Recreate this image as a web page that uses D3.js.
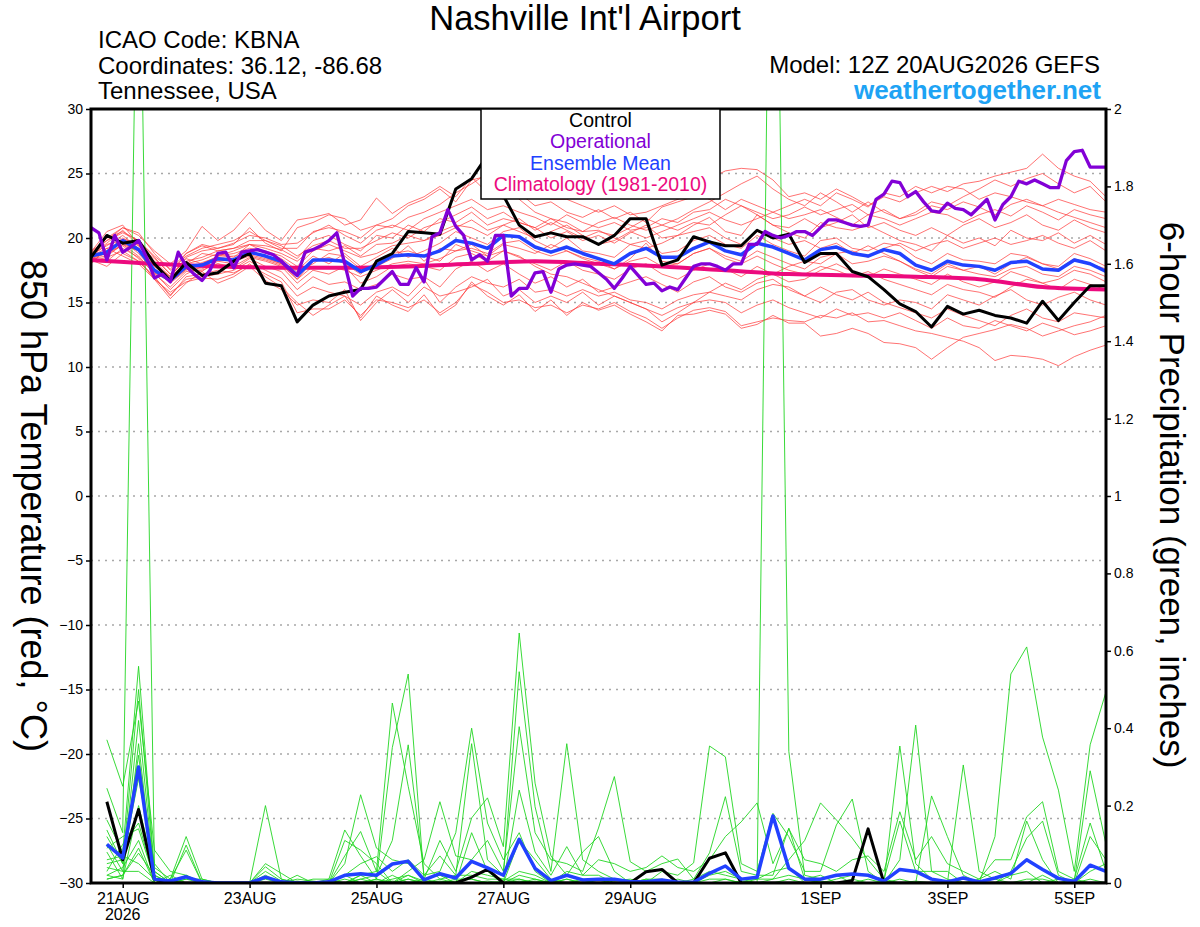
<!DOCTYPE html>
<html>
<head>
<meta charset="utf-8">
<script src="https://cdn.jsdelivr.net/npm/d3@7"></script>
<style>
  body { margin: 0; background: #fff; }
  svg { display: block; }
  text { font-family: "Liberation Sans", Arial, Helvetica, sans-serif; }
</style>
</head>
<body>
<svg id="chart" width="1200" height="927"></svg>
<script>
// ---------------- DATA ----------------
const runStart = "2026-08-20T12:00:00Z";   // first forecast time (6-hourly series)
const runEnd   = "2026-09-05T12:00:00Z";

// x-axis ticks
const tickDates  = ["2026-08-21","2026-08-23","2026-08-25","2026-08-27","2026-08-29","2026-09-01","2026-09-03","2026-09-05"];
const tickLabels = ["21AUG","23AUG","25AUG","27AUG","29AUG","1SEP","3SEP","5SEP"];
const tempTicks   = [-30,-25,-20,-15,-10,-5,0,5,10,15,20,25,30];
const precipTicks = [0,0.2,0.4,0.6,0.8,1,1.2,1.4,1.6,1.8,2];
const gridTemps   = [-25,-20,-15,-10,-5,0,5,10,15,20,25];

// 850 hPa temperature, control (6-hourly)
const controlT = [18.5,20.2,19.6,19.8,18.0,16.7,18.1,17.1,17.3,18.2,18.8,16.5,16.3,
  13.5,14.8,15.5,15.8,16.0,18.2,18.8,20.5,20.4,20.3,23.8,24.6,26.4,23.3,
  21.0,20.1,20.4,20.1,20.1,19.5,20.2,21.5,21.5,17.9,18.3,20.1,19.7,19.4,
  19.4,20.6,20.0,20.3,18.1,18.8,18.8,17.4,17.0,16.0,14.9,14.3,13.1,14.7,
  14.1,14.4,14.0,13.8,13.4,15.1,13.6,15.0,16.3,16.3];

// operational (3-hourly)
const operationalT = [20.8,20.4,18.3,20.2,18.9,19.3,19.8,18.5,16.9,17.2,16.6,18.9,17.8,
  17.2,16.7,17.5,18.8,18.9,17.7,18.9,19.0,19.1,18.9,18.7,18.2,17.6,
  17.1,18.9,19.1,19.4,19.8,20.4,18.0,15.5,16.1,16.1,16.2,16.8,17.4,
  16.4,16.4,17.7,16.6,20.1,20.4,22.2,20.9,20.2,18.3,18.7,18.2,20.2,
  20.2,15.5,16.1,16.1,17.3,17.4,15.8,17.6,17.9,18.0,17.9,17.8,17.3,
  16.8,16.1,16.9,17.8,17.1,16.4,16.5,15.9,16.2,16.0,16.9,17.8,18.0,
  18.0,17.8,17.5,18.0,18.0,19.5,19.5,20.5,20.2,20.0,20.2,20.5,20.5,
  20.2,20.8,21.4,21.4,21.2,21.0,20.9,21.0,23.0,23.4,24.4,24.3,23.2,
  23.6,22.8,22.1,22.0,22.7,22.3,22.2,21.8,22.4,23.0,21.4,22.6,23.2,
  24.4,24.2,24.5,24.2,23.9,23.9,26.0,26.7,26.8,25.5,25.5,25.5];

// ensemble mean (6-hourly)
const meanT = [18.6,18.9,19.8,19.1,17.5,16.7,17.8,17.9,18.4,18.3,18.9,18.6,18.2,
  17.1,18.3,18.3,18.2,17.4,17.9,18.6,18.7,18.6,19.0,19.8,19.6,19.2,20.2,
  20.1,19.3,18.9,19.3,18.8,18.4,18.0,18.8,19.2,18.5,18.5,19.2,19.7,19.0,
  18.7,19.6,19.3,18.8,18.3,19.1,19.3,18.8,18.6,19.1,18.8,17.9,17.5,18.2,
  17.9,17.8,17.5,18.1,18.2,17.6,17.5,18.3,18.0,17.4];

// climatology (1981-2010), daily at 12Z
const climT = [18.3,18.0,17.8,17.7,17.7,17.8,18.0,18.2,18.0,17.8,17.5,17.2,17.1,17.0,16.8,16.2,16.0];

// ensemble members, 850 hPa temperature (6-hourly)
const memberT = [
 [18.9,20.5,21.0,19.5,18.2,17.0,18.5,19.0,19.2,19.5,20.8,19.6,19.0,
  20.8,21.2,21.8,21.5,20.6,21.0,21.5,22.5,23.0,23.8,22.8,24.5,24.8,
  24.2,23.5,22.5,22.8,22.0,21.6,22.2,21.5,22.0,21.2,22.4,22.8,23.2,
  24.6,25.2,25.4,25.3,24.5,23.2,23.5,23.0,23.8,23.2,22.5,23.2,22.8,
  23.5,24.0,23.6,24.2,24.4,24.8,25.1,25.4,26.5,25.4,24.8,24.4,23.2],
 [18.2,18.5,19.0,18.2,17.0,15.5,17.0,17.2,17.5,17.3,17.9,17.2,16.6,
  14.2,14.5,14.5,15.2,14.0,15.2,15.0,14.6,15.2,14.2,15.0,16.4,15.8,
  15.0,15.2,14.6,14.8,14.2,14.8,14.5,15.0,14.3,13.8,13.0,13.8,14.4,
  14.6,14.3,13.2,13.5,13.8,13.6,13.5,14.0,13.8,14.2,13.5,13.6,13.2,
  12.8,12.6,12.3,12.0,11.5,10.5,10.9,10.8,10.6,10.1,10.8,11.3,11.7],
 [18.0,19.2,18.6,18.0,16.8,15.8,16.6,16.9,16.8,17.2,18.0,17.0,16.2,
  15.0,14.0,14.8,15.5,13.8,15.5,14.8,14.3,15.6,14.0,14.8,16.6,15.5,
  14.8,15.6,14.3,15.2,14.0,15.0,14.4,14.8,14.1,13.5,12.8,14.0,14.1,
  14.4,14.1,13.0,13.3,14.0,13.4,13.4,12.4,12.6,13.0,12.6,11.9,11.8,
  11.5,10.6,11.5,12.3,12.6,12.9,13.3,13.0,12.4,12.8,13.2,13.5,14.0],
 [19.0,19.8,20.8,20.2,19.0,18.0,19.0,20.9,19.8,20.6,22.0,20.6,19.8,
  21.4,21.6,21.9,21.0,21.4,23.1,21.9,22.7,23.2,24.0,23.2,24.7,23.5,
  23.0,24.0,23.5,23.0,23.0,22.5,22.0,22.5,21.8,22.0,22.5,23.0,23.5,
  23.0,22.2,23.0,22.5,22.0,21.5,21.8,22.2,21.6,21.0,21.8,21.5,21.0,
  21.5,22.0,21.8,21.2,21.8,22.2,21.7,22.5,22.0,21.4,22.2,21.8,21.5],
 [18.8,20.0,20.5,19.8,18.5,17.2,18.2,18.5,19.0,19.2,19.5,19.4,19.1,
  18.4,19.8,20.2,19.5,19.0,20.2,20.0,21.0,20.5,21.5,21.2,22.0,21.0,
  21.5,21.2,20.8,20.0,20.5,19.8,20.2,19.6,20.4,21.0,20.0,20.2,21.0,
  21.6,20.5,20.2,21.8,21.0,20.4,20.0,21.2,20.8,20.6,21.0,20.4,19.8,
  19.5,19.0,20.2,19.6,20.0,19.4,20.6,20.0,19.8,20.4,19.6,20.2,19.5],
 [18.4,18.6,19.5,18.6,17.2,16.2,17.4,17.5,18.0,17.6,18.4,17.8,17.4,
  16.0,17.0,16.4,16.6,16.0,16.4,17.2,16.8,17.0,16.2,17.6,18.2,17.4,
  18.0,17.2,16.5,17.0,16.2,16.8,15.8,16.2,16.6,17.0,16.4,15.8,16.6,
  17.0,16.2,15.8,16.5,16.8,16.0,15.5,16.2,15.6,15.2,15.8,15.0,14.6,
  14.2,13.8,14.5,14.0,13.6,13.2,14.0,14.5,13.8,13.5,14.2,14.0,13.8],
 [18.5,19.0,20.0,19.4,17.8,16.8,18.0,18.3,18.8,18.5,19.5,18.9,18.4,
  17.5,18.6,18.0,18.8,17.8,18.5,19.2,18.5,19.0,19.6,20.5,20.0,19.5,
  20.5,20.8,19.8,19.2,20.0,19.0,18.8,18.5,19.5,19.8,18.8,19.0,19.8,
  20.2,19.5,19.2,20.2,19.5,19.0,18.6,19.8,20.0,19.2,19.0,19.6,19.4,
  18.5,18.0,18.8,18.3,18.2,18.0,18.8,18.6,18.0,17.8,18.8,18.4,17.8],
 [18.7,19.4,20.2,19.2,17.8,17.0,18.4,18.0,18.6,18.8,19.2,19.0,18.6,
  17.8,19.0,19.5,19.0,18.5,18.8,19.4,19.6,19.8,20.5,21.0,20.8,20.2,
  21.0,20.5,20.0,20.5,21.0,20.2,19.5,19.8,20.5,20.0,20.5,21.0,21.5,
  22.0,21.4,21.0,21.5,22.0,22.5,23.0,22.5,23.5,23.0,22.4,23.5,23.2,
  24.0,23.5,24.0,23.8,23.0,23.5,23.2,22.8,22.5,23.0,22.6,22.2,22.0],
 [18.3,17.8,18.8,18.2,16.9,15.6,16.8,17.0,17.2,17.5,18.2,17.5,16.9,
  15.5,16.2,15.8,15.5,14.8,15.8,16.2,15.5,16.8,15.0,16.2,17.0,16.5,
  16.2,16.8,15.8,16.0,15.5,16.0,15.5,15.8,15.2,15.0,14.5,15.2,15.6,
  15.8,15.5,15.2,16.0,16.4,16.2,15.5,15.0,15.8,16.0,15.2,14.8,15.2,
  15.0,14.5,15.6,15.2,14.8,15.5,16.0,15.2,14.8,15.4,15.8,15.2,14.8],
 [18.6,19.2,19.6,19.0,17.6,16.5,17.5,18.1,18.5,18.6,18.7,18.4,18.0,
  17.4,18.0,18.8,18.6,17.6,17.8,18.4,19.4,18.2,19.2,19.0,19.5,18.6,
  19.5,19.2,18.8,19.5,19.0,18.4,18.0,17.6,18.4,19.6,18.2,18.0,18.8,
  19.2,18.4,18.0,18.6,18.0,17.5,17.2,17.8,17.5,17.0,17.4,16.8,16.4,
  16.0,15.6,16.4,16.0,15.8,15.4,16.2,16.8,16.5,16.0,16.8,16.4,16.0],
 [18.7,19.8,20.4,19.8,18.6,17.6,18.8,19.5,19.2,19.6,20.2,20.0,19.5,
  19.6,20.4,21.0,20.2,19.6,20.6,21.0,20.6,21.5,22.0,22.5,23.0,22.2,
  22.5,22.0,21.6,21.0,21.8,21.2,20.8,21.2,20.6,20.8,21.5,21.2,22.0,
  22.2,23.0,22.5,21.8,21.0,20.8,21.5,20.8,21.2,21.8,20.8,21.2,20.6,
  20.2,20.8,20.2,21.0,21.5,20.8,21.2,21.8,21.0,20.6,21.4,20.8,20.4],
 [18.5,18.2,19.2,18.5,17.3,16.0,17.2,17.8,18.0,17.8,18.5,18.2,17.8,
  16.5,17.5,17.2,17.8,16.5,17.0,17.8,18.0,17.8,17.5,18.5,18.8,18.2,
  19.0,18.5,18.0,17.5,18.2,17.5,17.2,16.8,17.6,18.0,17.2,16.8,17.5,
  18.0,17.6,17.0,17.8,17.2,16.6,16.8,17.5,18.0,17.4,17.0,17.6,17.2,
  16.8,16.4,17.2,16.6,16.2,16.6,17.4,17.0,16.5,16.8,17.5,17.2,16.6],
 [18.6,19.5,19.8,18.8,17.4,16.6,17.6,17.6,18.2,18.0,19.0,18.5,18.0,
  16.8,18.2,18.5,18.0,17.2,18.2,18.8,19.0,18.6,18.2,19.5,19.0,18.6,
  19.0,18.6,17.8,17.2,17.0,16.5,16.0,15.5,15.0,14.5,13.5,14.2,15.0,
  15.8,16.5,16.0,16.8,17.2,17.8,18.2,18.0,18.8,19.0,18.5,19.2,19.6,
  19.0,19.5,19.8,19.2,19.6,20.0,19.5,19.8,20.2,19.6,19.2,19.8,19.0],
 [18.8,20.0,20.8,20.4,18.8,17.5,18.6,19.2,19.5,19.8,20.5,19.8,19.2,
  19.2,20.5,20.8,20.5,20.0,21.0,20.8,21.6,22.0,22.6,23.5,24.2,25.0,
  24.5,23.0,22.0,21.5,21.2,20.5,20.6,20.0,19.5,19.2,19.6,20.2,20.5,
  20.8,20.0,19.5,20.5,20.0,19.5,19.8,19.2,19.6,18.8,19.4,18.8,18.2,
  17.6,17.2,18.0,17.5,17.8,17.2,18.0,18.5,18.0,17.6,18.4,18.0,17.6],
 [18.4,18.8,19.4,18.4,16.8,15.3,16.5,17.4,16.5,17.0,17.8,16.7,16.0,
  14.8,15.2,15.0,16.0,13.6,15.0,16.0,15.0,16.2,15.5,15.8,16.2,16.8,
  15.5,16.0,15.0,15.5,15.0,15.8,14.8,15.5,15.0,14.5,14.0,14.6,15.0,
  15.2,15.0,14.2,14.8,15.2,14.6,14.2,13.8,14.5,14.0,14.2,13.8,14.2,
  13.6,13.0,13.8,13.2,13.0,13.6,13.2,12.8,13.4,13.0,12.5,12.8,13.2],
 [18.6,19.0,19.9,19.6,18.0,17.0,18.0,18.8,18.6,19.0,19.5,19.2,18.8,
  18.2,19.2,19.0,19.4,18.6,19.5,19.6,20.2,19.8,20.2,20.8,21.4,20.6,
  21.0,21.5,20.6,21.2,20.6,20.0,20.5,20.2,20.8,21.5,21.0,20.6,21.2,
  21.0,21.8,22.5,22.0,21.5,21.8,22.4,21.8,22.2,22.6,21.8,22.2,21.5,
  21.8,22.5,22.2,22.8,22.4,21.8,22.6,23.0,22.5,22.0,21.6,21.2,20.8],
 [18.5,18.8,19.5,19.0,17.3,16.6,17.6,17.4,18.3,18.2,18.6,18.3,17.9,
  16.8,17.8,17.8,17.5,17.0,17.5,18.0,18.2,18.0,18.4,19.0,19.2,18.8,
  19.6,19.8,19.0,18.6,19.0,18.5,18.2,17.6,18.2,18.5,17.8,18.0,18.8,
  19.2,18.6,18.2,19.0,18.5,18.0,17.6,18.5,18.8,18.0,18.2,18.6,18.2,
  17.5,17.0,17.8,17.5,17.2,17.0,17.6,17.8,17.2,17.0,17.8,17.5,17.0],
 [18.7,19.6,20.6,19.4,18.4,17.2,18.8,19.4,19.0,19.2,19.8,19.8,19.4,
  18.6,19.4,19.8,19.2,19.2,19.8,20.4,20.0,20.8,21.2,21.8,22.4,21.5,
  22.0,21.2,20.8,21.5,20.8,20.5,21.2,21.6,21.0,20.6,21.0,21.5,22.2,
  22.8,23.5,24.2,24.8,23.8,23.0,22.5,23.5,22.8,22.0,22.8,22.0,21.5,
  22.0,22.8,22.5,23.2,23.8,24.5,24.0,24.6,25.0,24.2,23.5,24.0,22.8]
];

// 6-hour precipitation (inches), steps 1..64
const controlP = [0.21,0.06,0.19,0.01,0,0,0,0,0,0,0,0,0,0,0,0,
  0,0,0,0,0,0,0,0.015,0.035,0,0,0,0,0,0,0,
  0,0,0.029,0.035,0,0,0.064,0.078,0,0,0,0,0,0,0,0.006,
  0.14,0,0,0,0,0,0,0,0,0,0,0,0,0,0,0];
const meanP = [0.10,0.065,0.30,0.01,0.005,0.016,0.003,0,0,0,0.015,0.003,0,0,0.003,0.02,
  0.024,0.02,0.049,0.056,0.008,0.024,0.013,0.056,0.039,0.02,0.113,0.038,0.006,0.02,0.008,0.01,
  0.01,0.003,0.003,0.008,0.002,0.002,0.025,0.044,0.01,0.015,0.173,0.038,0.01,0.01,0.02,0.023,
  0.02,0.005,0.035,0.03,0.01,0.003,0.013,0.003,0.013,0.025,0.06,0.035,0.012,0.004,0.046,0.03];

// ensemble members' precipitation, one row per 6-hour step (steps 1..64), 16 members per row
const greenByStep = [
 [.37,.245,.163,.137,.10,.08,.05,.03,.02,.01,.06,.04,.02,.12,.09,.01],
 [.25,.13,.08,.05,.03,.01,.06,.10,.04,.02,.07,.03,.01,.05,.12,.02],
 [.47,2.7,.56,.50,.42,.36,.27,.155,.11,.077,.05,.03,.2,.33,.14,.09],
 [.085,.04,.03,.02,.01,0,.05,.01,0,.02,.01,0,.03,0,.01,0],
 [.03,.01,0,0,0,.01,0,0,.02,0,0,0,0,.01,0,0],
 [.02,.12,.098,.01,0,.085,0,.02,0,0,.01,0,0,0,.02,0],
 [0,.01,0,.01,0,0,0,0,0,0,0,0,0,0,0,0],
 [0,0,0,0,0,0,0,0,0,0,0,0,0,0,0,0],
 [0,0,0,0,0,0,0,0,0,0,0,0,0,0,0,0],
 [0,0,0,0,0,0,0,0,0,0,0,0,0,0,0,0],
 [0,0,.05,0,.20,.042,0,.03,0,.02,0,0,.01,0,0,0],
 [0,0,.025,0,.01,.01,0,.005,0,0,0,0,0,0,0,0],
 [0,0,0,.02,0,0,.01,0,0,0,0,.005,0,0,0,0],
 [0,0,0,0,0,0,.005,0,0,0,.01,0,0,0,0,0],
 [0,.01,0,0,0,0,0,.005,0,0,.01,0,0,0,0,0],
 [.02,.137,0,.05,.11,0,.07,0,0,.02,0,0,0,.01,0,0],
 [.05,.07,.02,.228,.085,.01,.133,0,.02,0,.01,0,0,0,0,0],
 [.068,.01,.03,.09,.05,.02,.03,.01,0,.01,0,0,0,0,0,.005],
 [.03,0,.465,.06,0,.11,0,.35,.02,0,.01,0,.005,0,0,0],
 [.06,.03,.25,.05,.02,.357,.01,.54,0,0,.02,0,0,0,.01,0],
 [.02,.06,.05,.01,.005,.02,0,.01,0,.01,0,0,0,0,0,0],
 [.03,.21,.01,.11,0,.07,0,.02,.01,0,0,0,.005,0,0,0],
 [.13,.07,0,.03,0,.02,.01,0,.02,0,0,0,0,.005,0,0],
 [.40,.06,.03,.168,0,.36,.01,.13,.02,0,0,0,0,.01,0,0],
 [.155,.11,.02,.22,0,.06,0,.03,.01,0,.005,0,0,0,0,0],
 [.06,.03,.01,.094,0,.02,0,0,.01,.005,0,0,0,0,0,0],
 [.13,.404,.01,.646,.02,.546,.11,.24,0,.03,0,0,.005,.01,0,0],
 [.03,.13,0,.258,.01,.197,.06,.08,0,.02,.01,0,0,0,.005,0],
 [0,.06,0,.07,0,.03,.01,.02,0,0,0,.005,0,0,0,0],
 [.03,.05,.01,.02,0,.36,0,.094,.01,0,0,0,0,0,0,0],
 [.02,.03,0,.08,0,.06,.01,.02,0,0,0,0,0,0,0,0],
 [.06,.142,.01,.12,0,.03,0,.02,0,.01,0,0,0,0,0,0],
 [.05,.275,.005,.03,0,.01,0,0,0,0,.01,0,0,0,0,0],
 [.03,.055,.01,0,0,.005,0,0,.005,0,0,0,0,0,0,0],
 [.04,.03,0,.01,0,0,.01,0,0,0,0,0,.005,0,0,0],
 [.07,.05,.03,.01,0,0,0,.005,0,0,0,0,0,0,0,0],
 [.04,.062,.02,0,0,0,.01,0,0,0,0,0,0,0,0,0],
 [.03,.01,.052,0,.01,0,0,0,0,0,0,0,0,0,0,0],
 [.06,.03,.354,.01,.078,0,.02,0,0,0,0,0,0,0,0,0],
 [.12,.02,.326,.01,.223,0,.03,.01,0,0,0,0,0,0,0,0],
 [.158,.01,.05,0,.03,0,.01,0,0,0,.005,0,0,0,0,0],
 [.207,.01,.03,0,.02,0,0,0,.01,0,0,0,0,0,0,0],
 [.05,.01,.18,3.3,.02,0,.01,0,.03,0,0,0,0,0,0,0],
 [.14,.06,.12,.34,.142,0,.02,.01,.04,0,0,0,0,0,0,0],
 [.06,.11,.03,.02,.01,0,.01,0,0,0,0,0,0,0,0,0],
 [.05,.207,.03,.01,0,0,.02,.005,0,0,0,0,0,0,0,0],
 [.03,.163,.15,.02,0,.01,0,0,0,0,0,0,0,0,0,0],
 [.06,.116,.217,0,0,.02,0,0,0,0,.01,0,0,0,0,0],
 [.07,.06,.03,0,.01,.02,0,0,0,0,0,0,0,0,0,0],
 [.03,.01,0,0,0,.01,0,0,0,0,0,.005,0,0,0,0],
 [.184,.16,0,.354,.06,0,.01,0,0,0,0,0,0,0,0,0],
 [.06,.03,0,.05,.408,0,0,0,0,.005,0,0,0,0,0,0],
 [.12,.03,0,.01,.03,.225,0,0,0,0,0,0,0,0,0,0],
 [.05,.03,0,0,.01,.12,0,0,0,0,0,0,0,0,0,0],
 [.03,0,0,0,0,.02,.305,0,0,0,0,0,0,0,0,0],
 [.01,0,0,0,.01,0,.03,0,0,0,0,0,0,0,0,0],
 [.06,0,.12,0,.03,0,.01,0,0,0,0,0,0,0,0,0],
 [.06,.03,.54,0,.01,0,0,0,.02,0,0,0,0,0,0,0],
 [.171,.116,.61,0,.16,.01,0,0,.03,0,0,0,0,0,0,0],
 [.21,.16,.377,0,.06,.01,0,.02,0,0,0,0,0,0,0,0],
 [.03,.02,.24,.01,0,0,0,0,0,0,0,0,0,0,0,0],
 [.01,0,.03,.005,0,0,0,0,0,.01,0,0,0,0,0,0],
 [.155,.12,.357,.29,0,.03,0,0,.01,0,0,0,0,0,0,0],
 [.03,.06,.494,.1,0,.05,0,0,0,0,0,0,0,0,0,0]
];

// ---------------- CHART ----------------
const W = 1200, H = 927;
const plot = {left: 91, right: 1106, top: 109, bottom: 883};
const COL = {
  red: "#ff3a3a", green: "#22d622", control: "#000000",
  oper: "#8200d6", mean: "#2141ff", clim: "#ec0a7e", site: "#1ea3f4"
};

const svg = d3.select("#chart");
svg.append("rect").attr("width", W).attr("height", H).attr("fill", "#fff");

const t0 = new Date(runStart), t1 = new Date(runEnd);
const HOUR = 3600e3;
const x  = d3.scaleUtc().domain([t0, t1]).range([plot.left, plot.right]);
const yT = d3.scaleLinear().domain([-30, 30]).range([plot.bottom, plot.top]);
const yP = d3.scaleLinear().domain([0, 2]).range([plot.bottom, plot.top]);

const timeAt = (step, hours) => new Date(t0.getTime() + step * hours * HOUR);

svg.append("clipPath").attr("id", "clip")
  .append("rect").attr("x", plot.left).attr("y", plot.top)
  .attr("width", plot.right - plot.left).attr("height", plot.bottom - plot.top);

// grid
svg.append("g").selectAll("line").data(gridTemps).join("line")
  .attr("x1", plot.left).attr("x2", plot.right)
  .attr("y1", d => yT(d)).attr("y2", d => yT(d))
  .attr("stroke", "#a8a8a8").attr("stroke-width", 1.6)
  .attr("stroke-dasharray", "2,5");

const g = svg.append("g").attr("clip-path", "url(#clip)");

const line6T = d3.line().x((d, i) => x(timeAt(i, 6))).y(d => yT(d));
const line3T = d3.line().x((d, i) => x(timeAt(i, 3))).y(d => yT(d));
const lineP  = d3.line().x((d, i) => x(timeAt(i + 1, 6))).y(d => yP(d));
const lineClim = d3.line().x((d, i) => x(timeAt(i, 24))).y(d => yT(d)).curve(d3.curveMonotoneX);

// ensemble temperature members
g.append("g").selectAll("path").data(memberT).join("path")
  .attr("d", line6T).attr("fill", "none")
  .attr("stroke", COL.red).attr("stroke-width", 0.9).attr("stroke-opacity", 0.8);

// ensemble precipitation members
const greenMembers = d3.transpose(greenByStep);
g.append("g").selectAll("path").data(greenMembers).join("path")
  .attr("d", lineP).attr("fill", "none")
  .attr("stroke", COL.green).attr("stroke-width", 0.9);

// climatology
g.append("path").datum(climT).attr("d", lineClim).attr("fill", "none")
  .attr("stroke", COL.clim).attr("stroke-width", 4);

// precipitation: control & mean
g.append("path").datum(controlP).attr("d", lineP).attr("fill", "none")
  .attr("stroke", COL.control).attr("stroke-width", 3).attr("stroke-linejoin", "round");
g.append("path").datum(meanP).attr("d", lineP).attr("fill", "none")
  .attr("stroke", COL.mean).attr("stroke-width", 3.5).attr("stroke-linejoin", "round");

// temperatures: mean, control, operational
g.append("path").datum(meanT).attr("d", line6T).attr("fill", "none")
  .attr("stroke", COL.mean).attr("stroke-width", 3.5).attr("stroke-linejoin", "round");
g.append("path").datum(controlT).attr("d", line6T).attr("fill", "none")
  .attr("stroke", COL.control).attr("stroke-width", 3).attr("stroke-linejoin", "round");
g.append("path").datum(operationalT).attr("d", line3T).attr("fill", "none")
  .attr("stroke", COL.oper).attr("stroke-width", 3.3).attr("stroke-linejoin", "round");

// frame
svg.append("rect").attr("x", plot.left).attr("y", plot.top)
  .attr("width", plot.right - plot.left).attr("height", plot.bottom - plot.top)
  .attr("fill", "none").attr("stroke", "#000").attr("stroke-width", 3);

// axes
function styleAxis(sel, size) {
  sel.select(".domain").remove();
  sel.selectAll(".tick line").attr("stroke", "#000").attr("stroke-width", 1.5);
  sel.selectAll(".tick text").attr("fill", "#000").attr("font-size", size)
    .attr("font-family", '"Liberation Sans", Arial, Helvetica, sans-serif');
}
svg.append("g").attr("transform", `translate(${plot.left},0)`)
  .call(d3.axisLeft(yT).tickValues(tempTicks).tickSize(5).tickPadding(3).tickFormat(d3.format("d")))
  .call(s => styleAxis(s, 14));
svg.append("g").attr("transform", `translate(${plot.right},0)`)
  .call(d3.axisRight(yP).tickValues(precipTicks).tickSize(5).tickPadding(3).tickFormat(d3.format("~g")))
  .call(s => styleAxis(s, 14));
const tickDateObjs = tickDates.map(d => new Date(d + "T00:00:00Z"));
svg.append("g").attr("transform", `translate(0,${plot.bottom})`)
  .call(d3.axisBottom(x).tickValues(tickDateObjs).tickSize(5).tickPadding(5)
    .tickFormat((d, i) => tickLabels[i]))
  .call(s => styleAxis(s, 16));
svg.append("text").attr("x", x(tickDateObjs[0])).attr("y", 920)
  .attr("text-anchor", "middle").attr("font-size", 16).text("2026");

// axis titles
svg.append("text").attr("transform", "translate(21,506) rotate(90)")
  .attr("text-anchor", "middle").attr("font-size", 36).text("850 hPa Temperature (red, °C)");
svg.append("text").attr("transform", "translate(1160,495) rotate(90)")
  .attr("text-anchor", "middle").attr("font-size", 35).text("6-hour Precipitation (green, inches)");

// header
svg.append("text").attr("x", 585).attr("y", 30).attr("text-anchor", "middle")
  .attr("font-size", 34.5).text("Nashville Int'l Airport");
const leftHead = ["ICAO Code: KBNA", "Coordinates: 36.12, -86.68", "Tennessee, USA"];
svg.append("g").selectAll("text").data(leftHead).join("text")
  .attr("x", 98).attr("y", (d, i) => 48 + i * 25.5).attr("font-size", 24).text(d => d);
svg.append("text").attr("x", 1100).attr("y", 73).attr("text-anchor", "end")
  .attr("font-size", 24).text("Model: 12Z 20AUG2026 GEFS");
svg.append("text").attr("x", 1101).attr("y", 99).attr("text-anchor", "end")
  .attr("font-size", 26).attr("font-weight", "bold").attr("fill", COL.site).text("weathertogether.net");

// legend
const legendItems = [
  {label: "Control", color: COL.control},
  {label: "Operational", color: COL.oper},
  {label: "Ensemble Mean", color: COL.mean},
  {label: "Climatology (1981-2010)", color: COL.clim}
];
svg.append("rect").attr("x", 481).attr("y", 109).attr("width", 239).attr("height", 90)
  .attr("fill", "#fff").attr("stroke", "#000").attr("stroke-width", 1.5);
svg.append("g").selectAll("text").data(legendItems).join("text")
  .attr("x", 600.5).attr("y", (d, i) => 127 + i * 21.3).attr("text-anchor", "middle")
  .attr("font-size", 19.5).attr("fill", d => d.color).text(d => d.label);
</script>
</body>
</html>
